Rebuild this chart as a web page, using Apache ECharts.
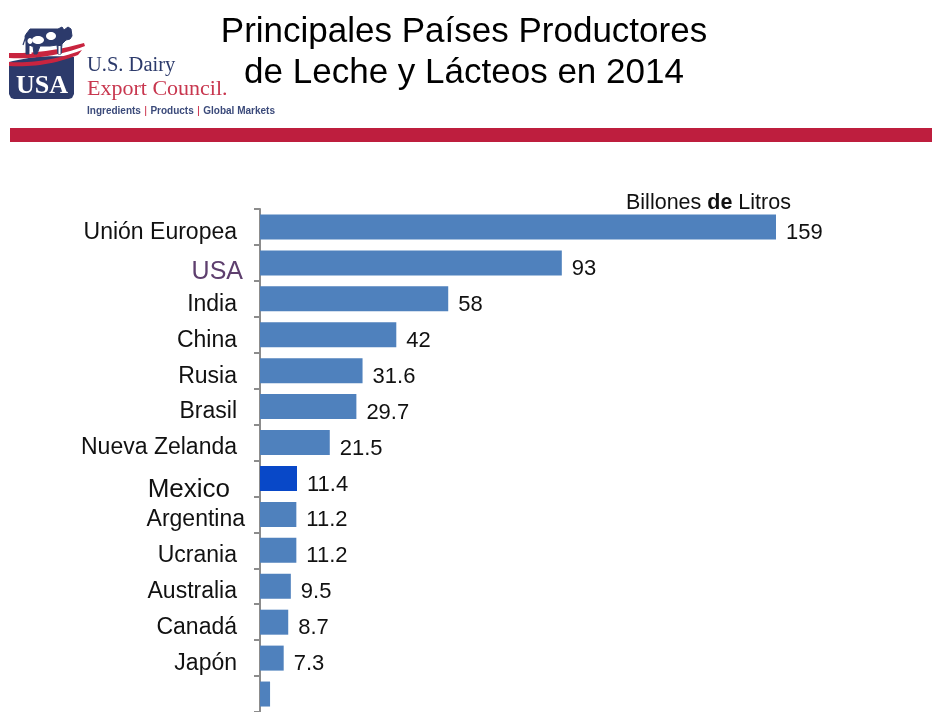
<!DOCTYPE html>
<html>
<head>
<meta charset="utf-8">
<script src="https://cdn.jsdelivr.net/npm/echarts@6/dist/echarts.min.js"></script>
<style>
html,body{margin:0;padding:0;background:#fff;}
#chart{width:932px;height:712px;}
</style>
</head>
<body>
<div id="chart"></div>
<script>
// ---- data ----
const titleLines = ['Principales Países Productores', 'de Leche y Lácteos en 2014'];
const unitLabel = ['Billones ', 'de', ' Litros'];
const categories = ['Unión Europea', 'USA', 'India', 'China', 'Rusia', 'Brasil', 'Nueva Zelanda', 'Mexico', 'Argentina', 'Ucrania', 'Australia', 'Canadá', 'Japón', ''];
const values = [159, 93, 58, 42, 31.6, 29.7, 21.5, 11.4, 11.2, 11.2, 9.5, 8.7, 7.3, 3.1];
const highlight = 'Mexico';

const BASE = '#4F81BD';
const HIGH = '#0848C8';
const NAVY = '#2C3A6B';
const FONT = '"Liberation Sans", Arial, sans-serif';
const SERIF = '"Liberation Serif", "DejaVu Serif", serif';

// quadratic curve helper for logo decoration
function quad(p0, p1, p2, n) {
  const pts = [];
  for (let i = 0; i <= n; i++) {
    const t = i / n, a = (1 - t) * (1 - t), b = 2 * (1 - t) * t, c = t * t;
    pts.push([a * p0[0] + b * p1[0] + c * p2[0], a * p0[1] + b * p1[1] + c * p2[1]]);
  }
  return pts;
}
function band(top, bottom) {
  return quad(top[0], top[1], top[2], 16).concat(quad(bottom[0], bottom[1], bottom[2], 16).reverse());
}

const chart = echarts.init(document.getElementById('chart'), null, {renderer: 'canvas'});

const seriesData = values.map((v, i) => {
  const d = {value: v};
  if (categories[i] === highlight) d.itemStyle = {color: HIGH};
  if (categories[i] === '') d.label = {show: false};
  return d;
});

const badge = quad([9, 62], [40, 54], [74, 57], 16).concat([[74, 94], [72, 98], [69, 99], [14, 99], [11, 98], [9, 94]]);

const option = {
  backgroundColor: '#ffffff',
  animation: false,
  grid: {left: 260, top: 209, width: 516, height: 508, containLabel: false},
  xAxis: {type: 'value', min: 0, max: 159, show: false, splitLine: {show: false}},
  yAxis: {
    type: 'category',
    inverse: true,
    data: categories,
    axisLine: {show: true, lineStyle: {color: '#8c8c8c', width: 2}},
    axisTick: {show: true, length: 6, lineStyle: {color: '#8c8c8c', width: 2}},
    axisLabel: {
      margin: 15,
      fontFamily: FONT,
      fontSize: 23,
      color: '#111111',
      formatter: function (v) {
        if (v === 'USA') return '{u|' + v + '}';
        if (v === 'Mexico') return '{m|' + v + '}';
        if (v === 'Argentina') return '{a|' + v + '}';
        return '{n|' + v + '}';
      },
      rich: {
        n: {fontFamily: FONT, fontSize: 23, color: '#111111', padding: [11, 8, 0, 0]},
        u: {fontFamily: FONT, fontSize: 25, color: '#5E3F6E', padding: [18, 2, 0, 0]},
        m: {fontFamily: FONT, fontSize: 26, color: '#111111', padding: [23, 15, 0, 0]},
        a: {fontFamily: FONT, fontSize: 23, color: '#111111', padding: [10, 0, 0, 0]}
      }
    }
  },
  series: [{
    type: 'bar',
    data: seriesData,
    barWidth: 25,
    itemStyle: {color: BASE},
    label: {
      show: true,
      position: 'right',
      distance: 10,
      offset: [0, 6],
      fontFamily: FONT,
      fontSize: 22,
      color: '#111111'
    }
  }],
  graphic: [
    // title
    {type: 'text', x: 464, y: 32, style: {text: titleLines[0], font: '35px ' + FONT, fill: '#000', align: 'center', verticalAlign: 'middle'}},
    {type: 'text', x: 464, y: 73, style: {text: titleLines[1], font: '35px ' + FONT, fill: '#000', align: 'center', verticalAlign: 'middle'}},
    // red rule
    {type: 'rect', shape: {x: 10, y: 128, width: 922, height: 14}, style: {fill: '#BE1E3E'}},
    // unit label
    {type: 'text', x: 626, y: 203, style: {
      text: '{r|' + unitLabel[0] + '}{b|' + unitLabel[1] + '}{r|' + unitLabel[2] + '}',
      verticalAlign: 'middle',
      rich: {
        r: {fontFamily: FONT, fontSize: 21.5, fill: '#111'},
        b: {fontFamily: FONT, fontSize: 21.5, fontWeight: 'bold', fill: '#111'}
      }
    }},
    // logo badge
    {type: 'polygon', shape: {points: badge}, style: {fill: NAVY}},
    {type: 'polygon', shape: {points: band([[9, 53], [45, 54], [84, 43]], [[9, 58], [48, 60], [85, 46]])}, style: {fill: '#C8243F'}},
    {type: 'polygon', shape: {points: band([[9, 62], [45, 64], [82, 50]], [[9, 66], [45, 68], [78, 55]])}, style: {fill: '#C8243F'}},
    {type: 'text', x: 42, y: 86, style: {text: 'USA', font: 'bold 26px ' + SERIF, fill: '#ffffff', align: 'center', verticalAlign: 'middle'}},
    // cow
    {type: 'polygon', shape: {points: [[27, 33], [30, 29], [40, 29], [58, 29], [62, 27], [64, 30], [68, 27], [71, 29], [72, 36], [70, 39], [66, 40], [62, 44], [61, 54], [58, 54], [57, 45], [50, 46], [40, 46], [37, 54], [34, 54], [33, 46], [30, 47], [29, 54], [26, 54], [26, 42], [25, 36]]}, style: {fill: NAVY, stroke: NAVY, lineWidth: 1}},
    {type: 'ellipse', shape: {cx: 38, cy: 40, rx: 6, ry: 4}, style: {fill: '#ffffff'}},
    {type: 'ellipse', shape: {cx: 51, cy: 36, rx: 5, ry: 4}, style: {fill: '#ffffff'}},
    {type: 'ellipse', shape: {cx: 30, cy: 41, rx: 2.5, ry: 3}, style: {fill: '#ffffff'}},
    {type: 'rect', shape: {x: 29.5, y: 46, width: 2, height: 8}, style: {fill: '#ffffff'}},
    {type: 'rect', shape: {x: 58.5, y: 46, width: 2, height: 8}, style: {fill: '#ffffff'}},
    {type: 'line', shape: {x1: 27, y1: 33, x2: 23, y2: 45}, style: {stroke: NAVY, lineWidth: 1.2}},
    // logo text
    {type: 'text', x: 87, y: 66, style: {text: 'U.S. Dairy', font: '20.5px ' + SERIF, fill: NAVY, verticalAlign: 'middle'}},
    {type: 'text', x: 87, y: 89, style: {text: 'Export Council.', font: '22px ' + SERIF, fill: '#C8374F', verticalAlign: 'middle'}},
    {type: 'text', x: 87, y: 111, style: {
      text: '{t|Ingredients} {s||} {t|Products} {s||} {t|Global Markets}',
      verticalAlign: 'middle',
      rich: {
        t: {fontFamily: FONT, fontSize: 10, fontWeight: 'bold', fill: '#3B4A7A'},
        s: {fontFamily: FONT, fontSize: 11, fill: '#C8243F'}
      }
    }}
  ]
};

chart.setOption(option);
</script>
</body>
</html>
